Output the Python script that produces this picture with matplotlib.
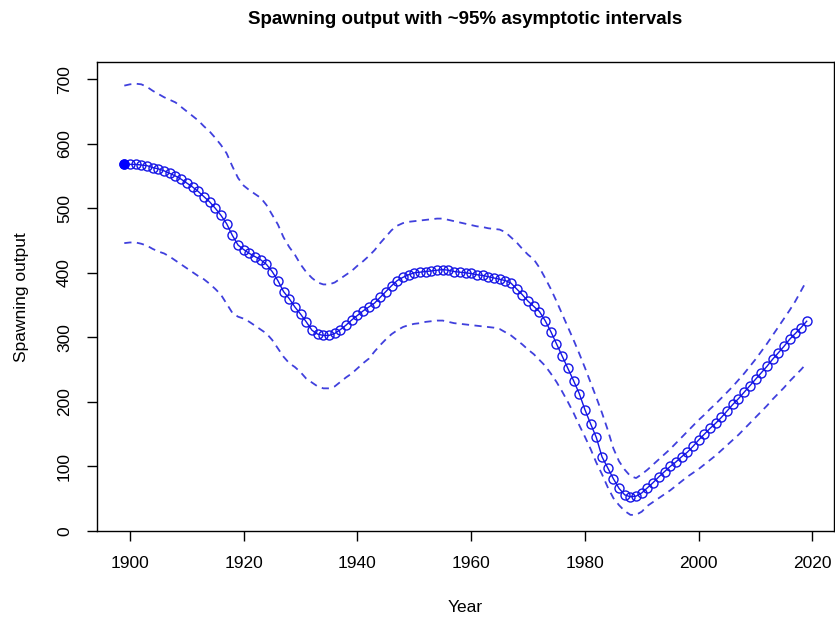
import numpy as np
import matplotlib
matplotlib.use("Agg")
import matplotlib.pyplot as plt

plt.rcParams['font.family'] = ['Liberation Sans', 'DejaVu Sans']

# years of the assessment
years = np.arange(1899, 2020)

# estimated spawning output (1899-2019)
spawn = [
    568, 568, 568, 567, 566, 563, 561, 558, 554, 550,   # 1899-1908
    545, 539, 533, 526, 518, 510, 500, 489, 476, 458,   # 1909-1918
    443, 436, 430, 425, 420, 413, 402, 388, 371, 360,   # 1919-1928
    347, 336, 324, 311, 305, 303, 303, 306, 312, 319,   # 1929-1938
    327, 334, 341, 347, 353, 362, 371, 380, 388, 393,   # 1939-1948
    397, 400, 401, 402, 403, 404, 405, 404, 402, 401,   # 1949-1958
    400, 399, 397, 396, 394, 392, 390, 388, 384, 375,   # 1959-1968
    366, 356, 348, 340, 326, 309, 290, 271, 252, 233,   # 1969-1978
    213, 188, 166, 145, 115, 98, 81, 66, 56, 53,        # 1979-1988
    54, 59, 67, 75, 84, 92, 100, 107, 115, 122,         # 1989-1998
    131, 141, 150, 159, 167, 176, 186, 196, 205, 215,   # 1999-2008
    225, 235, 245, 255, 266, 276, 286, 297, 306, 315,   # 2009-2018
    325,                                                # 2019
]

# upper ~95% interval
upper = [
    690, 692, 693, 692, 688, 682, 677, 672, 668, 664,
    657, 650, 643, 636, 627, 619, 609, 598, 585, 565,
    547, 535, 528, 522, 516, 505, 490, 475, 455, 440,
    428, 413, 401, 392, 385, 382, 382, 385, 391, 397,
    403, 411, 418, 426, 435, 446, 456, 466, 473, 477,
    479, 480, 481, 482, 483, 484, 484, 482, 480, 478,
    476, 474, 472, 471, 469, 468, 467, 463, 455, 447,
    437, 428, 421, 408, 392, 375, 356, 336, 316, 296,
    275, 253, 230, 207, 183, 157, 128, 108, 95, 85,
    82, 88, 95, 103, 111, 119, 127, 136, 145, 154,
    163, 172, 180, 189, 197, 206, 215, 224, 234, 244,
    255, 266, 278, 290, 303, 316, 329, 342, 356, 372,
    388,
]

# lower ~95% interval
lower = [
    446, 447, 447, 445, 442, 437, 433, 430, 425, 419,
    413, 407, 401, 395, 390, 383, 375, 366, 352, 338,
    332, 329, 324, 318, 312, 306, 296, 283, 270, 260,
    254, 246, 236, 230, 224, 221, 221, 224, 231, 238,
    244, 252, 260, 267, 278, 288, 297, 305, 311, 316,
    319, 321, 322, 324, 325, 326, 326, 324, 322, 321,
    320, 319, 318, 317, 316, 315, 313, 308, 303, 296,
    289, 281, 274, 265, 256, 244, 231, 216, 200, 183,
    164, 146, 127, 106, 88, 68, 51, 40, 31, 25,
    25, 30, 39, 45, 51, 57, 63, 70, 77, 84,
    90, 96, 103, 110, 117, 125, 133, 141, 149, 158,
    167, 176, 185, 194, 204, 213, 222, 232, 241, 250,
    260,
]

fig = plt.figure(figsize=(8.35, 6.18), dpi=100)
ax = fig.add_axes([97 / 835, 1 - 531 / 618, 737 / 835, 469 / 618])

ax.plot(years, upper, color='#4040DD', lw=1.3, ls=(0, (4, 3)))
ax.plot(years, lower, color='#4040DD', lw=1.3, ls=(0, (4, 3)))
ax.plot(years, spawn, color='#1515E6', lw=1.0, marker='o', markersize=6.5,
        markerfacecolor='none', markeredgewidth=1.0)
ax.plot(years[:1], spawn[:1], 'o', color='#0000FF', markersize=6.5)

ax.set_xlim(1894.2, 2023.8)
ax.set_ylim(0, 726.6)
ax.set_xticks(np.arange(1900, 2021, 20))
ax.set_yticks(np.arange(0, 701, 100))
ax.tick_params(direction='out', length=7, width=1, labelsize=12.5, pad=11)
for lab in ax.get_yticklabels():
    lab.set_rotation(90)
    lab.set_va('center')
for sp in ax.spines.values():
    sp.set_linewidth(1)

fig.text(465.5 / 835, 1 - 19 / 618, 'Spawning output with ~95% asymptotic intervals',
         ha='center', va='center', fontsize=13.5, fontweight='bold')
fig.text(465.5 / 835, 1 - 607 / 618, 'Year', ha='center', va='center', fontsize=12.5)
fig.text(22 / 835, 1 - 297 / 618, 'Spawning output', ha='center', va='center',
         rotation=90, fontsize=12.5)

fig.savefig('out.png', dpi=100)
